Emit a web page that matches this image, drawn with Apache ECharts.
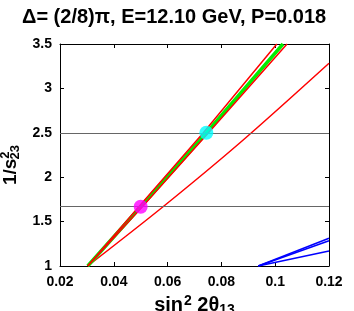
<!DOCTYPE html>
<html>
<head>
<meta charset="utf-8">
<script src="https://cdn.jsdelivr.net/npm/echarts@6/dist/echarts.min.js"></script>
<style>html,body{margin:0;padding:0;background:#fff}#c{width:354px;height:311px}</style>
</head>
<body>
<div id="c"></div>
<script>
// Data
var greenLine = [[0.0303, 1], [0.050, 1.667], [0.0744, 2.5], [0.1029, 3.5]];
var redLeft   = [[0.0303, 1], [0.0493, 1.667], [0.0733, 2.5], [0.1006, 3.5]];
var redRight  = [[0.0303, 1], [0.0506, 1.667], [0.0752, 2.5], [0.1044, 3.5]];
var redShallow = [[0.0303, 1], [0.0583, 1.667], [0.0881, 2.419], [0.12, 3.283]];
var blueA = [[0.0937, 1], [0.12, 1.312]];
var blueB = [[0.0937, 1], [0.12, 1.285]];
var blueC = [[0.0937, 1], [0.12, 1.169]];
var magentaPt = [[0.050, 1.6667]];
var cyanPt = [[0.0744, 2.5]];
var hLines = [2.5, 1.6667];
var xTicks = {min: 0.02, max: 0.12, step: 0.02};
var yTicks = {min: 1, max: 3.5, step: 0.5};
var titleText = 'Δ= (2/8)π, E=12.10 GeV, P=0.018';

var FONT = '"Liberation Sans", Arial, Helvetica, sans-serif';
function fmt(v){ return String(Number(v.toFixed(3))); }
function lineSeries(data, color, width, z, smooth){
  return {type:'line', data:data, showSymbol:false, symbol:'none', smooth:smooth||false,
    lineStyle:{color:color, width:width}, z:z, silent:true, animation:false};
}
var chart = echarts.init(document.getElementById('c'), null, {renderer:'canvas'});
var axisCommon = {
  axisLine:{show:true, onZero:false, lineStyle:{color:'#000', width:1}},
  axisTick:{show:true, inside:true, length:4, lineStyle:{color:'#000'}},
  splitLine:{show:false}
};
chart.setOption({
  animation:false,
  backgroundColor:'#fff',
  title:{text:titleText, left:22, top:7, padding:0,
    textStyle:{fontFamily:FONT, fontSize:20, fontWeight:'bold', color:'#000'}},
  grid:{left:60, right:25, top:44, bottom:45, containLabel:false, outerBoundsMode:'none'},
  xAxis:[
    Object.assign({type:'value', min:xTicks.min, max:xTicks.max, interval:xTicks.step, position:'bottom',
      axisLabel:{formatter:fmt, fontFamily:FONT, fontSize:14, fontWeight:'bold', color:'#000', margin:9},
      name:'{b|sin}{sup|2}{b| 2θ}{sub|13}', nameLocation:'middle', nameGap:27,
      nameTextStyle:{rich:{
        b:{fontFamily:FONT, fontSize:20, fontWeight:'bold', color:'#000'},
        sup:{fontFamily:FONT, fontSize:14, fontWeight:'bold', color:'#000', padding:[0,0,10,1]},
        sub:{fontFamily:FONT, fontSize:14, fontWeight:'bold', color:'#000', padding:[9,0,0,0]}
      }}}, axisCommon),
    Object.assign({type:'value', min:xTicks.min, max:xTicks.max, interval:xTicks.step, position:'top',
      axisLabel:{show:false}}, axisCommon)
  ],
  yAxis:[
    Object.assign({type:'value', min:yTicks.min, max:yTicks.max, interval:yTicks.step, position:'left',
      axisLabel:{formatter:fmt, fontFamily:FONT, fontSize:14, fontWeight:'bold', color:'#000', margin:8},
      name:'{b|1/s}{sup|2}{sub|23}', nameLocation:'middle', nameGap:35, nameRotate:90,
      nameTextStyle:{padding:[0,20,0,0], rich:{
        b:{fontFamily:FONT, fontSize:19, fontWeight:'bold', color:'#000'},
        sup:{fontFamily:FONT, fontSize:13, fontWeight:'bold', color:'#000', padding:[0,0,10,0]},
        sub:{fontFamily:FONT, fontSize:13, fontWeight:'bold', color:'#000', padding:[9,0,0,-8]}
      }}}, axisCommon),
    Object.assign({type:'value', min:yTicks.min, max:yTicks.max, interval:yTicks.step, position:'right',
      axisLabel:{show:false}}, axisCommon)
  ],
  series:[
    {type:'line', data:[], symbol:'none', silent:true,
      markLine:{silent:true, symbol:['none','none'], label:{show:false},
        lineStyle:{color:'#666', width:1, type:'solid'},
        data:hLines.map(function(v){return {yAxis:v};})}, z:1},
    lineSeries(redShallow, '#ff0000', 1.5, 3, 0.3),
    lineSeries(greenLine, '#00ee00', 3.5, 3),
    lineSeries(redLeft, '#ff0000', 1.5, 4),
    lineSeries(redRight, '#ff0000', 1.5, 4),
    lineSeries(blueA, '#0000ff', 1.5, 3),
    lineSeries(blueB, '#0000ff', 1.5, 3),
    lineSeries(blueC, '#0000ff', 1.5, 3),
    {type:'scatter', data:magentaPt, symbol:'circle', symbolSize:14, itemStyle:{color:'#ff00ff'}, z:6, silent:true},
    {type:'scatter', data:cyanPt, symbol:'circle', symbolSize:14, itemStyle:{color:'#00ffff'}, z:6, silent:true}
  ]
});
</script>
</body>
</html>
